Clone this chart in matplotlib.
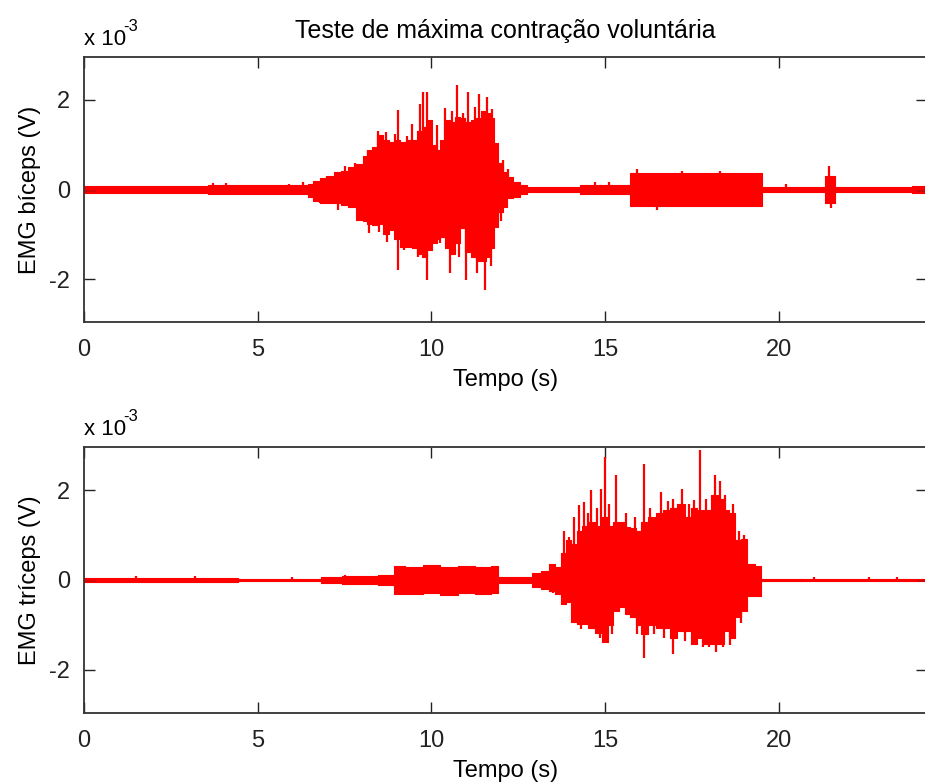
import matplotlib
matplotlib.use("Agg")
import matplotlib.pyplot as plt
import numpy as np

# ---------------- data (values in units of 1e-3 V) ----------------
title = "Teste de máxima contração voluntária"
xlabel = "Tempo (s)"
ylabel_top = "EMG bíceps (V)"
ylabel_bot = "EMG tríceps (V)"
xticks = [0, 5, 10, 15, 20]
yticks = [-2, 0, 2]

# biceps amplitude envelope (time s, upper, lower)
bic_t = [0, 3.55, 3.6, 6.4, 6.5, 6.7, 6.9, 7.1, 7.3, 7.5, 7.7, 7.95, 8.1, 8.2, 8.35,
         8.5, 8.7, 8.85, 9.0, 9.2, 9.35, 9.5, 9.65, 9.8, 9.95, 10.1, 10.2, 10.3,
         10.45, 10.6, 10.75, 10.9, 11.05, 11.2, 11.35, 11.5, 11.65, 11.75, 11.85,
         12.0, 12.1, 12.25, 12.45, 12.65, 12.85, 14.25, 14.3, 15.7, 15.75, 19.5,
         19.55, 21.3, 21.35, 21.6, 21.65, 23.8, 23.85, 24.3]
bic_up = [0.07, 0.07, 0.09, 0.09, 0.12, 0.2, 0.25, 0.3, 0.39, 0.42, 0.5, 0.58, 0.75,
          0.88, 0.95, 1.21, 1.1, 1.05, 1.1, 1.05, 1.1, 1.1, 1.3, 1.4, 1.55, 1.0,
          0.88, 1.1, 1.55, 1.5, 1.62, 1.6, 1.51, 1.55, 1.6, 1.75, 1.7, 1.6, 1.03,
          0.6, 0.4, 0.28, 0.17, 0.1, 0.06, 0.06, 0.09, 0.09, 0.36, 0.36, 0.06,
          0.06, 0.3, 0.3, 0.06, 0.06, 0.08, 0.08]
bic_lo = [-0.07, -0.07, -0.09, -0.09, -0.16, -0.25, -0.31, -0.3, -0.31, -0.35, -0.39,
          -0.68, -0.7, -0.76, -0.8, -0.76, -1.0, -0.9, -1.1, -1.28, -1.28, -1.3,
          -1.45, -1.5, -1.35, -1.2, -1.1, -1.06, -1.3, -1.43, -1.2, -0.87, -1.4,
          -1.5, -1.6, -1.6, -1.5, -1.3, -0.83, -0.5, -0.39, -0.2, -0.16, -0.09,
          -0.06, -0.06, -0.09, -0.09, -0.36, -0.36, -0.06, -0.06, -0.31, -0.31,
          -0.06, -0.06, -0.08, -0.08]
# biceps prominent spikes (time s, peak value)
bic_spk_t = [3.7, 4.1, 5.9, 6.3, 7.0, 7.5, 7.8, 8.17, 8.45, 8.7, 8.95, 9.04, 9.3,
             9.45, 9.67, 9.76, 9.87, 10.15, 10.4, 10.6, 10.73, 10.9, 11.05, 11.25,
             11.37, 11.6, 11.75, 12.07, 12.2,
             6.8, 7.3, 7.94, 8.2, 8.5, 8.72, 9.04, 9.2, 9.6, 9.87, 10.25, 10.54, 10.8,
             11.0, 11.3, 11.54, 11.7, 12.0,
             14.7, 15.1, 15.9, 16.5, 17.2, 18.3, 19.2, 20.2, 21.45, 21.5]
bic_spk_v = [0.15, 0.14, 0.13, 0.16, 0.3, 0.52, 0.6, 0.88, 1.3, 1.29, 1.25, 1.77, 1.2,
             1.47, 1.92, 2.18, 2.18, 1.45, 1.81, 1.75, 2.33, 1.7, 2.18, 1.85, 2.14,
             2.07, 1.8, 0.65, 0.45,
             -0.3, -0.45, -0.68, -0.98, -0.95, -1.17, -1.8, -1.35, -1.5, -2.02, -1.2,
             -1.87, -1.5, -2.02, -1.87, -2.25, -1.7, -0.7,
             0.16, 0.17, 0.45, -0.46, 0.42, 0.42, -0.4, 0.12, 0.52, -0.42]

# triceps amplitude envelope (time s, upper, lower)
tri_t = [0, 4.4, 4.45, 6.8, 6.85, 8.0, 8.9, 8.95, 9.5, 10.0, 10.5, 11.0, 11.5, 11.9,
         11.95, 12.8, 13.0, 13.3, 13.46, 13.65, 13.8, 13.95, 14.1, 14.25, 14.4, 14.6,
         14.8, 15.0, 15.15, 15.3, 15.5, 15.65, 15.8, 15.95, 16.1, 16.35, 16.55,
         16.75, 16.95, 17.2, 17.4, 17.55, 17.75, 17.95, 18.15, 18.35, 18.5, 18.65,
         18.8, 19.0, 19.15, 19.45, 19.5, 24.3]
tri_up = [0.05, 0.05, 0.02, 0.02, 0.07, 0.09, 0.12, 0.32, 0.3, 0.33, 0.3, 0.32, 0.3,
          0.32, 0.06, 0.06, 0.15, 0.2, 0.36, 0.28, 0.6, 0.88, 0.8, 1.1, 1.2, 1.3,
          1.2, 1.4, 1.2, 1.3, 1.3, 1.18, 1.15, 1.1, 1.3, 1.4, 1.5, 1.55, 1.6, 1.7,
          1.4, 1.6, 1.55, 1.55, 1.9, 1.8, 1.55, 1.5, 0.88, 0.92, 0.36, 0.32, 0.025,
          0.025]
tri_lo = [-0.05, -0.05, -0.02, -0.02, -0.07, -0.09, -0.12, -0.32, -0.31, -0.3, -0.33,
          -0.3, -0.32, -0.3, -0.06, -0.06, -0.15, -0.2, -0.24, -0.31, -0.54, -0.5,
          -0.94, -0.98, -0.98, -1.06, -1.17, -1.39, -1.0, -0.7, -0.61, -0.76, -0.83,
          -1.0, -1.2, -1.0, -1.06, -1.06, -1.3, -1.13, -1.13, -1.43, -1.3, -1.43,
          -1.43, -1.43, -1.13, -1.3, -0.83, -0.68, -0.35, -0.35, -0.025, -0.025]
# triceps prominent spikes (time s, peak value)
tri_spk_t = [1.5, 3.2, 6.0, 7.5, 13.8, 13.95, 14.09, 14.24, 14.39, 14.5, 14.59, 14.75,
             14.88, 15.0, 15.12, 15.3, 15.6, 15.85, 16.12, 16.3, 16.6, 16.8, 16.96,
             17.2, 17.4, 17.55, 17.74, 17.9, 18.17, 18.3, 18.45, 18.67, 18.85, 19.0,
             13.5, 13.8, 14.1, 14.3, 14.6, 14.85, 15.0, 15.2, 15.9, 16.12, 16.4,
             16.7, 16.96, 17.3, 17.55, 17.8, 18.0, 18.2, 18.4, 18.6, 18.9,
             21.0, 22.6, 23.4]
tri_spk_v = [0.08, 0.08, 0.06, 0.12, 1.1, 0.95, 1.4, 1.66, 1.73, 1.5, 2.0, 1.6, 2.03,
             2.74, 1.7, 2.33, 1.5, 1.4, 2.59, 1.6, 1.96, 1.75, 1.81, 2.03, 1.7, 1.77,
             2.89, 1.8, 2.33, 2.2, 1.9, 1.7, 1.1, 1.0,
             -0.3, -0.54, -0.94, -1.1, -1.06, -1.3, -1.39, -1.2, -1.2, -1.73, -1.2,
             -1.3, -1.65, -1.35, -1.43, -1.5, -1.5, -1.6, -1.5, -1.45, -0.95,
             0.06, 0.06, 0.06]

# ---------------- figure ----------------
plt.rcParams['font.family'] = ['Liberation Sans', 'DejaVu Sans']
plt.rcParams['axes.unicode_minus'] = False
fig = plt.figure(figsize=(9.25, 7.84), dpi=100)
W, H = 925, 784
left = 84 / W
width = (927 - 84) / W
ax1 = fig.add_axes([left, 1 - 322 / H, width, (322 - 57) / H])
ax2 = fig.add_axes([left, 1 - 713 / H, width, (713 - 447) / H])

RED = '#ff0000'
FS = 17

def draw(ax, t, up, lo, st, sv, ylab):
    ax.fill_between(t, lo, up, color=RED, lw=0.8, edgecolor=RED, step='mid')
    ax.plot([0, 24.3], [0, 0], color=RED, lw=1.2)
    ax.vlines(st, 0, sv, color=RED, lw=1.6)
    ax.set_xlim(0, 24.26)
    ax.set_ylim(-2.96, 2.96)
    ax.set_xticks(xticks)
    ax.set_yticks(yticks)
    ax.tick_params(direction='in', length=8, width=1, top=True, right=True,
                   labelsize=FS, colors='#222222')
    ax.tick_params(axis='x', pad=12)
    ax.tick_params(axis='y', pad=10)
    for s in ax.spines.values():
        s.set_linewidth(1.3)
        s.set_color('#333333')
    ax.set_xlabel(xlabel, fontsize=FS, labelpad=6)
    ax.set_ylabel(ylab, fontsize=FS, labelpad=6)
    ax.text(0.0, 1.025, "x 10", transform=ax.transAxes, fontsize=FS - 1,
            ha='left', va='bottom')
    ax.text(0.046, 1.085, "-3", transform=ax.transAxes, fontsize=FS - 5,
            ha='left', va='bottom')

draw(ax1, bic_t, bic_up, bic_lo, bic_spk_t, bic_spk_v, ylabel_top)
draw(ax2, tri_t, tri_up, tri_lo, tri_spk_t, tri_spk_v, ylabel_bot)
ax1.set_title(title, fontsize=18, pad=14)

fig.savefig("out.png", dpi=100)
